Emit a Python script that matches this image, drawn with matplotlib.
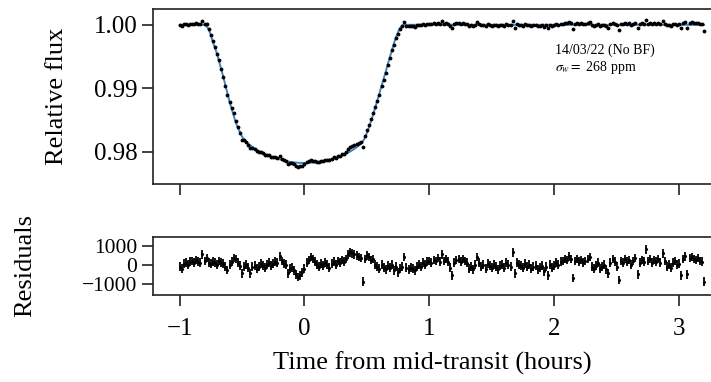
import numpy as np
import matplotlib
matplotlib.use("Agg")
import matplotlib.pyplot as plt

# Observation times, minutes from mid-transit (one-minute cadence)
time_min = [
    -60, -59, -58, -57, -56, -55, -54, -53, -52, -51, -50, -49, -48, -47, -46, -45, -44, -43, -42, -41,
    -40, -39, -38, -37, -36, -35, -34, -33, -32, -31, -30, -29, -28, -27, -26, -25, -24, -23, -22, -21,
    -20, -19, -18, -17, -16, -15, -14, -13, -12, -11, -10, -9, -8, -7, -6, -5, -4, -3, -2, -1,
    0, 1, 2, 3, 4, 5, 6, 7, 8, 9, 10, 11, 12, 13, 14, 15, 16, 17, 18, 19,
    20, 21, 22, 23, 24, 25, 26, 27, 28, 29, 30, 31, 32, 33, 34, 35, 36, 37, 38, 39,
    40, 41, 42, 43, 44, 45, 46, 47, 48, 49, 50, 51, 52, 53, 54, 55, 56, 57, 58, 59,
    60, 61, 62, 63, 64, 65, 66, 67, 68, 69, 70, 71, 72, 73, 74, 75, 76, 77, 78, 79,
    80, 81, 82, 83, 84, 85, 86, 87, 88, 89, 90, 91, 92, 93, 94, 95, 96, 97, 98, 99,
    100, 101, 102, 103, 104, 105, 106, 107, 108, 109, 110, 111, 112, 113, 114, 115, 116, 117, 118, 119,
    120, 121, 122, 123, 124, 125, 126, 127, 128, 129, 130, 131, 132, 133, 134, 135, 136, 137, 138, 139,
    140, 141, 142, 143, 144, 145, 146, 147, 148, 149, 150, 151, 152, 153, 154, 155, 156, 157, 158, 159,
    160, 161, 162, 163, 164, 165, 166, 167, 168, 169, 170, 171, 172, 173, 174, 175, 176, 177, 178, 179,
    180, 181, 182, 183, 184, 185, 186, 187, 188, 189, 190, 191, 192,
]

# Best-fit transit model, flux deficit in ppm at each observation time
model_depth_ppm = [
    0, 0, 0, 0, 0, 0, 0, 0, 0, 0, 0, 0, 0,
    250, 750, 1600, 2700, 3600, 4600, 5800, 7000, 8200, 9500,
    10800, 12100, 13200, 14300, 15400, 16200, 16900, 17600, 18000, 18400,
    18700, 18950, 19200, 19450, 19650, 19850, 20000, 20150, 20300, 20450,
    20600, 20750, 20850, 20950, 21050, 21150, 21250, 21350, 21450, 21500,
    21550, 21600, 21650, 21680, 21700, 21720, 21730, 21730, 21720, 21710,
    21690, 21670, 21640, 21610, 21550, 21480, 21410, 21340, 21260, 21180,
    21100, 21010, 20920, 20820, 20710, 20600, 20450, 20280, 20100, 19910,
    19720, 19520, 19280, 19040, 18720, 18390, 17800, 17000, 16100, 15100,
    14100, 13000, 11900, 10800, 9600, 8500, 7400, 6200, 5100, 4000,
    2900, 1900, 1100, 450, 100,
    0, 0, 0, 0, 0, 0, 0, 0, 0, 0, 0, 0, 0, 0, 0, 0, 0, 0, 0, 0,
    0, 0, 0, 0, 0, 0, 0, 0, 0, 0, 0, 0, 0, 0, 0, 0, 0, 0, 0, 0,
    0, 0, 0, 0, 0, 0, 0, 0, 0, 0, 0, 0, 0, 0, 0, 0, 0, 0, 0, 0,
    0, 0, 0, 0, 0, 0, 0, 0, 0, 0, 0, 0, 0, 0, 0, 0, 0, 0, 0, 0,
    0, 0, 0, 0, 0, 0, 0, 0, 0, 0, 0, 0, 0, 0, 0, 0, 0, 0, 0, 0,
    0, 0, 0, 0, 0, 0, 0, 0, 0, 0, 0, 0, 0, 0, 0, 0, 0, 0, 0, 0,
    0, 0, 0, 0, 0, 0, 0, 0, 0, 0, 0, 0, 0, 0, 0, 0, 0, 0, 0, 0,
    0, 0, 0, 0, 0,
]

# Residuals (data - model) in ppm
residual_ppm = [
    -100, -200, 50, 100, 0, 150, 200, 100, 250, 150,
    100, 550, 200, 350, 100, 50, 150, 100, 0, 200,
    100, 50, -100, -280, 0, 150, 350, 300, 100, -50,
    -450, -100, 0, -150, -450, -100, -50, -200, -100, 50,
    -50, -150, 0, 100, -50, 50, 150, 100, 450, 200,
    50, 0, -450, -200, -150, -300, -500, -650, -550, -400,
    -200, 100, 250, 400, 300, 150, 0, -100, 50, -50,
    100, 0, -150, 50, 150, 0, 200, 100, 250, 150,
    300, 550, 650, 600, 550, 500, 400, 350, -900, 300,
    500, 400, 250, 300, 0, -100, -200, 0, -150, -250,
    -50, -150, 0, -300, -100, -400, -200, -100, 400, -150,
    -250, -150, -200, -300, -100, 0, -100, 100, 0, 150,
    200, 100, 250, 200, 350, 150, 550, 200, 300, 150,
    -150, -550, 100, 250, 300, 150, 300, 200, 100, -200,
    -100, -250, 0, 400, 100, -100, 0, -200, 50, -50,
    -150, 0, -100, -250, -50, 0, -150, 100, 0, -100,
    650, -450, 100, 0, -50, -150, 50, -100, 0, -200,
    -100, -50, -250, -150, -50, -350, -100, -550, 0, -150,
    -50, 100, 0, 150, 200, 300, 250, 450, 300, -700,
    200, 300, 150, 250, 100, 200, 300, 400, -100, -200,
    -50, 100, -200, -100, 0, -250, -450, 100, 300, 150,
    -100, -800, 200, 100, 300, 150, 250, 0, 200, 350,
    -500, 100, 250, 150, 800, 200, 300, 100, 250, 150,
    300, 100, 600, 200, -100, 0, -150, 100, 200, 0,
    50, -550, 300, 450, -500, 350, 400, 300, 250, 350,
    200, 150, -900,
]
residual_err_ppm = 230

x_ticks = [-1, 0, 1, 2, 3]
x_tick_labels = ["\u22121", "0", "1", "2", "3"]
flux_ticks = [0.98, 0.99, 1.00]
flux_tick_labels = ["0.98", "0.99", "1.00"]
resid_ticks = [-1000, 0, 1000]
resid_tick_labels = ["\u22121000", "0", "1000"]

assert len(time_min) == len(model_depth_ppm) == len(residual_ppm)

t_hours = np.array(time_min) / 60.0
model_flux = 1.0 - np.array(model_depth_ppm) * 1e-6
resid = np.array(residual_ppm, dtype=float)
flux = model_flux + resid * 1e-6

plt.rcParams["font.family"] = "serif"
plt.rcParams["font.serif"] = ["Liberation Serif", "DejaVu Serif"]
plt.rcParams["mathtext.fontset"] = "stix"

W, H = 711, 382
fig = plt.figure(figsize=(W / 100, H / 100), dpi=100)


def px_box(left, top, right, bottom):
    return [left / W, 1 - bottom / H, (right - left) / W, (bottom - top) / H]


ax1 = fig.add_axes(px_box(152.5, 9.3, 713, 184))
ax2 = fig.add_axes(px_box(152.5, 236.5, 713, 294.5))

xlim = (-1.217, 3.271)
label_fs = 19
tick_fs = 18
resid_tick_fs = 15.5

ax1.plot(t_hours, model_flux, color="#3f86c6", lw=1.4, zorder=2)
ax1.plot(t_hours, flux, ".", color="black", ms=3.5, zorder=3)
ax1.set_xlim(*xlim)
ax1.set_ylim(0.97496, 1.00244)
ax1.set_xticks(x_ticks)
ax1.set_xticklabels([])
ax1.set_yticks(flux_ticks)
ax1.set_yticklabels(flux_tick_labels)
ax1.set_ylabel("Relative flux", fontsize=label_fs)
ax1.yaxis.set_label_coords(-0.15, 0.5)

ax1.text(0.718, 0.767, "14/03/22 (No BF)", transform=ax1.transAxes,
         fontsize=10, va="center", ha="left")
ax1.text(0.718, 0.665, r"$\sigma_w =$ 268 ppm", transform=ax1.transAxes,
         fontsize=10, va="center", ha="left")

ax2.errorbar(t_hours, resid, yerr=residual_err_ppm, fmt=".", color="black",
             ms=2.5, elinewidth=1.3, capsize=0)
ax2.set_xlim(*xlim)
ax2.set_ylim(-1568, 1484)
ax2.set_xticks(x_ticks)
ax2.set_xticklabels(x_tick_labels)
ax2.set_yticks(resid_ticks)
ax2.set_yticklabels(resid_tick_labels)
ax2.set_ylabel("Residuals", fontsize=label_fs)
ax2.yaxis.set_label_coords(-0.207, 0.5)
ax2.set_xlabel("Time from mid-transit (hours)", fontsize=label_fs, labelpad=8)

for ax in (ax1, ax2):
    for sp in ax.spines.values():
        sp.set_linewidth(1.2)
        sp.set_color("#222222")
    ax.tick_params(direction="out", length=8, width=1.2, labelsize=tick_fs,
                   color="#222222", pad=3)
ax2.tick_params(axis="y", labelsize=resid_tick_fs, pad=3)
ax2.tick_params(axis="x", pad=9)

fig.savefig("out.png", dpi=100)
